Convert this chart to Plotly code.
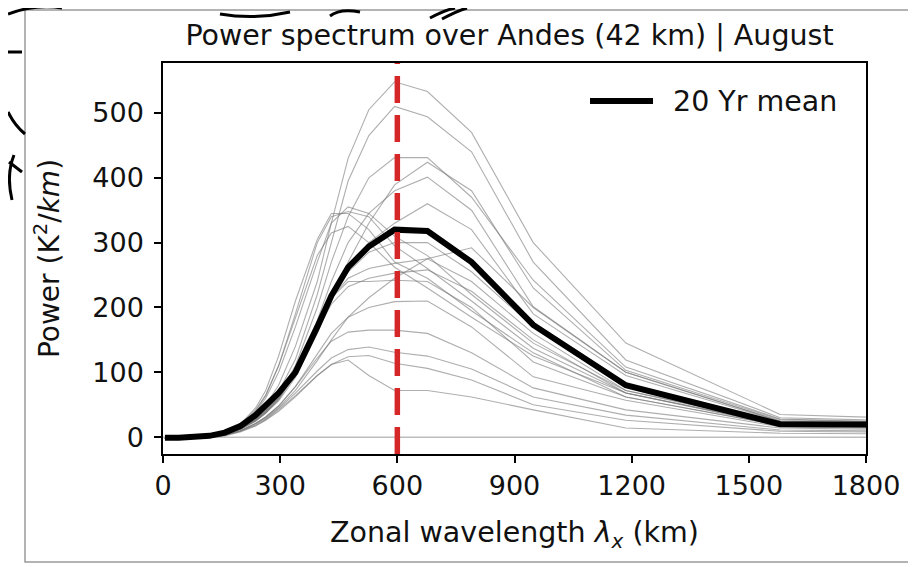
import plotly.graph_objects as go

# ---------------- data ----------------
wavelength_km = [2370, 1580, 1185, 948, 790, 677, 593, 527, 474, 431, 395,
                 339, 296, 263, 237, 198, 158, 119, 79, 40, 5]

yr01 = [20, 35, 145, 300, 470, 533, 548, 505, 430, 330, 240, 140, 80, 50, 34, 17, 6, 1, 0, -1, -2]
yr02 = [18, 30, 119, 270, 440, 494, 510, 465, 395, 300, 220, 120, 70, 44, 30, 15, 5, 1, 0, -1, -2]
yr03 = [15, 28, 108, 242, 370, 431, 431, 400, 340, 270, 200, 110, 65, 42, 28, 14, 5, 1, 0, -1, -2]
yr04 = [16, 27, 103, 230, 380, 424, 389, 330, 270, 210, 160, 92, 56, 37, 25, 12, 4, 1, 0, -1, -2]
yr05 = [14, 25, 100, 201, 350, 401, 380, 345, 300, 240, 180, 100, 60, 40, 27, 13, 4, 1, 0, -1, -2]
yr06 = [14, 24, 95, 190, 320, 360, 330, 300, 265, 220, 170, 98, 58, 38, 26, 13, 4, 1, 0, -1, -2]
yr07 = [12, 22, 72, 145, 220, 280, 310, 345, 355, 330, 270, 170, 100, 60, 38, 18, 6, 1, 0, -1, -2]
yr08 = [12, 20, 68, 137, 210, 260, 295, 340, 348, 340, 300, 190, 110, 65, 42, 19, 6, 1, 0, -1, -2]
yr09 = [10, 18, 62, 130, 195, 245, 270, 320, 345, 345, 305, 210, 125, 72, 45, 20, 7, 2, 0, -1, -2]
yr10 = [11, 18, 68, 125, 185, 230, 262, 300, 325, 315, 280, 185, 110, 64, 40, 18, 6, 1, 0, -1, -2]
yr11 = [15, 25, 100, 200, 292, 275, 245, 215, 185, 150, 118, 72, 45, 30, 21, 10, 3, 0, 0, -1, -2]
yr12 = [13, 22, 80, 170, 255, 300, 300, 285, 255, 220, 175, 105, 62, 40, 27, 13, 4, 1, 0, -1, -2]
yr13 = [12, 20, 72, 160, 240, 275, 268, 260, 245, 215, 170, 100, 60, 38, 25, 12, 4, 1, 0, -1, -2]
yr14 = [11, 19, 68, 150, 225, 258, 253, 245, 232, 205, 165, 98, 58, 37, 25, 12, 4, 1, 0, -1, -2]
yr15 = [10, 18, 62, 116, 200, 240, 242, 240, 240, 215, 175, 105, 62, 40, 26, 13, 4, 1, 0, -1, -2]
yr16 = [9, 16, 57, 93, 170, 210, 209, 200, 185, 160, 128, 78, 48, 31, 21, 10, 3, 0, 0, -1, -2]
yr17 = [8, 14, 42, 76, 130, 160, 165, 165, 162, 148, 122, 78, 48, 31, 21, 10, 3, 0, 0, -1, -2]
yr18 = [6, 11, 34, 62, 105, 125, 131, 139, 135, 122, 102, 68, 44, 28, 19, 9, 3, 0, 0, -1, -2]
yr19 = [5, 9, 26, 50, 88, 106, 114, 126, 124, 112, 95, 64, 42, 27, 18, 9, 3, 0, 0, -1, -2]
yr20 = [3, 6, 14, 42, 62, 72, 72, 95, 119, 112, 95, 62, 40, 26, 17, 8, 2, 0, 0, -1, -2]

mean_20yr = [18, 20, 80, 173, 270, 318, 320, 294, 262, 218, 170, 100, 68, 48, 34, 17, 7, 2, 0, -1, -1]

marked_wavelength = 600
x_ticks = [0, 300, 600, 900, 1200, 1500, 1800]
y_ticks = [0, 100, 200, 300, 400, 500]

title_text = "Power spectrum over Andes (42 km) | August"
legend_text = "20 Yr mean"

# ---------------- figure ----------------
OFF = 8                      # page body margin of the browser
W, H = 916 - OFF, 567 - OFF
L, T = 163 - OFF, 63 - OFF
R, B = W - (866 - OFF), H - (454 - OFF)
PW, PH = W - L - R, H - T - B


def px(xpix):
    return (xpix - OFF - L) / PW


def py(ypix):
    return (H - B - (ypix - OFF)) / PH


FONT = "DejaVu Sans"
fig = go.Figure()

for s in [yr01, yr02, yr03, yr04, yr05, yr06, yr07, yr08, yr09, yr10,
          yr11, yr12, yr13, yr14, yr15, yr16, yr17, yr18, yr19, yr20]:
    fig.add_trace(go.Scatter(x=wavelength_km, y=s, mode="lines",
                             line=dict(color="rgba(120,120,120,0.6)", width=1.1),
                             showlegend=False, hoverinfo="skip"))

fig.add_trace(go.Scatter(x=wavelength_km, y=mean_20yr, mode="lines",
                         line=dict(color="black", width=6),
                         name=legend_text, showlegend=False))

# zero line
fig.add_shape(type="line", xref="paper", yref="y", x0=0, x1=1, y0=0, y1=0,
              line=dict(color="#bdbdbd", width=1.5), layer="below")
# red dashed marker
fig.add_shape(type="line", xref="x", yref="paper", x0=marked_wavelength,
              x1=marked_wavelength, y0=0, y1=1,
              line=dict(color="#d62728", width=5.5, dash="27px,12px"))

# manual legend
fig.add_shape(type="line", xref="paper", yref="paper",
              x0=px(590), x1=px(653), y0=py(101), y1=py(101),
              line=dict(color="black", width=6))
fig.add_annotation(xref="paper", yref="paper", x=px(671), y=py(101),
                   text=legend_text, showarrow=False, xanchor="left",
                   yanchor="middle", font=dict(family=FONT, size=28.5, color="#111"))

# outer frame
fig.add_shape(type="rect", xref="paper", yref="paper",
              x0=px(25), x1=px(911), y0=py(562), y1=py(10),
              line=dict(color="#9a9a9a", width=1.5), layer="below")

# scribbles outside the frame
scribbles = [
    "M {} {} Q {} {} {} {}".format(px(8), py(14), px(35), py(4), px(62), py(8)),
    "M {} {} L {} {}".format(px(8), py(52), px(22), py(52)),
    "M {} {} Q {} {} {} {}".format(px(8), py(112), px(15), py(126), px(25), py(134)),
    "M {} {} Q {} {} {} {}".format(px(14), py(155), px(6), py(175), px(12), py(200)),
    "M {} {} L {} {}".format(px(9), py(162), px(22), py(172)),
    "M {} {} Q {} {} {} {}".format(px(220), py(14), px(255), py(20), px(290), py(12)),
    "M {} {} Q {} {} {} {}".format(px(430), py(18), px(445), py(10), px(455), py(8)),
    "M {} {} Q {} {} {} {}".format(px(442), py(19), px(457), py(11), px(467), py(8)),
    "M {} {} Q {} {} {} {}".format(px(330), py(16), px(340), py(8), px(360), py(12)),
]
for p in scribbles:
    fig.add_shape(type="path", xref="paper", yref="paper", path=p,
                  line=dict(color="black", width=3))

fig.update_layout(
    width=W, height=H,
    margin=dict(l=L, r=R, t=T, b=B),
    paper_bgcolor="white", plot_bgcolor="white",
    font=dict(family=FONT, color="#111"),
    title=dict(text=title_text, x=(509.5 - OFF) / W, xanchor="center",
               y=1 - (35 - OFF) / H, yanchor="middle",
               font=dict(family=FONT, size=28.5, color="#111")),
    showlegend=False,
)
fig.update_xaxes(range=[0, 1800], tickvals=x_ticks, ticktext=[str(v) for v in x_ticks],
                 showgrid=False, zeroline=False, showline=True, linecolor="black",
                 linewidth=1.5, mirror=True, ticks="outside", ticklen=7, tickwidth=1.5,
                 tickcolor="black", tickfont=dict(family=FONT, size=27, color="#111"),
                 title=dict(text="Zonal wavelength <i>λ</i><sub><i>x</i></sub> (km)",
                            font=dict(family=FONT, size=28.5, color="#111"), standoff=22))
fig.update_yaxes(range=[-26, 577], tickvals=y_ticks, ticktext=[str(v) for v in y_ticks],
                 showgrid=False, zeroline=False, showline=True, linecolor="black",
                 linewidth=1.5, mirror=True, ticks="outside", ticklen=7, tickwidth=1.5,
                 tickcolor="black", tickfont=dict(family=FONT, size=27, color="#111"),
                 ticklabelstandoff=5,
                 title=dict(text="Power (K<sup>2</sup>/<i>km</i>)",
                            font=dict(family=FONT, size=28, color="#111"), standoff=25))

fig.write_html("out.html")
